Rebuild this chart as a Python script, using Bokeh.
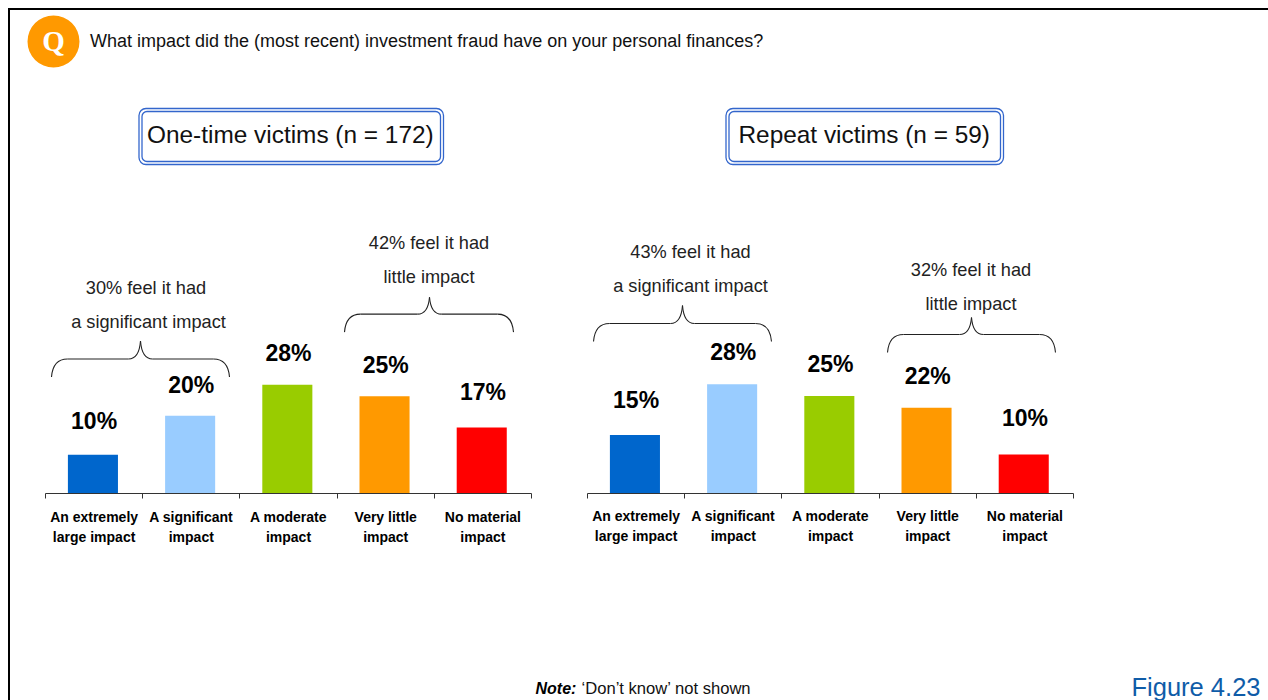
from bokeh.plotting import figure
from bokeh.layouts import column, row
from bokeh.models import Range1d, FixedTicker, BoxAnnotation, Div, ColumnDataSource
from bokeh.core.properties import value
from bokeh.embed import file_html
from bokeh.resources import INLINE

categories = ["An extremely\nlarge impact", "A significant\nimpact", "A moderate\nimpact",
              "Very little\nimpact", "No material\nimpact"]
one_time = [10, 20, 28, 25, 17]
repeat = [15, 28, 25, 22, 10]
colors = ["#0066cc", "#99ccff", "#99cc00", "#ff9900", "#ff0000"]
question = "What impact did the (most recent) investment fraud have on your personal finances?"
title_one = "One-time victims (n = 172)"
title_repeat = "Repeat victims (n = 59)"
note_head = "Note:"
note_body = "\u2018Don\u2019t know\u2019 not shown"
fig_label = "Figure 4.23"

FONT = value("Liberation Sans")
PX_PER_PCT = 3.9
positions = [i + 0.5 for i in range(len(categories))]
edges = [float(i) for i in range(len(categories) + 1)]


def brace(p, x0, x1, xm, yend, ymid, ytip):
    segs = [
        (x0, yend, x0 + 1, ymid + 6, x0 + 7, ymid, x0 + 16, ymid),
        (x0 + 16, ymid, x0 + 30, ymid, xm - 26, ymid, xm - 12, ymid),
        (xm - 12, ymid, xm - 5, ymid, xm - 1, ymid - 5, xm, ytip),
        (xm, ytip, xm + 1, ymid - 5, xm + 5, ymid, xm + 12, ymid),
        (xm + 12, ymid, xm + 26, ymid, x1 - 30, ymid, x1 - 16, ymid),
        (x1 - 16, ymid, x1 - 7, ymid, x1 - 1, ymid + 6, x1, yend),
    ]
    data = {n: [s[i] for s in segs] for i, n in enumerate(["x0", "y0", "cx0", "cy0", "cx1", "cy1", "x1", "y1"])}
    p.bezier(x0="x0", y0="y0", x1="x1", y1="y1", cx0="cx0", cy0="cy0", cx1="cx1", cy1="cy1",
             source=ColumnDataSource(data), line_color="#222222", line_width=1.1,
             x_range_name="px", y_range_name="py")


def chart(values, width, left, right, page_left, axis_y, standoff, label_offsets, annots, braces):
    h = axis_y - 225
    p = figure(width=width, height=327, output_backend="svg", toolbar_location=None,
               x_range=Range1d(0, 5), y_range=Range1d(0, h / PX_PER_PCT),
               y_axis_location=None, min_border_left=left, min_border_right=right,
               min_border_top=0, min_border_bottom=552 - axis_y)
    p.extra_x_ranges["px"] = Range1d(page_left, page_left + 486)
    p.extra_y_ranges["py"] = Range1d(axis_y, 225)
    p.grid.visible = False
    p.outline_line_color = None
    ax = p.xaxis[0]
    ax.ticker = FixedTicker(ticks=positions, minor_ticks=edges)
    ax.major_label_overrides = {pos: c for pos, c in zip(positions, categories)}
    ax.major_tick_in = 0
    ax.major_tick_out = 0
    ax.minor_tick_in = 0
    ax.minor_tick_out = 5
    ax.minor_tick_line_color = "#333333"
    ax.axis_line_color = "#333333"
    ax.major_label_standoff = standoff
    ax.major_label_text_font = "Liberation Sans"
    ax.major_label_text_font_style = "bold"
    ax.major_label_text_font_size = "14px"
    ax.major_label_text_color = "#000000"
    ax.major_label_text_line_height = 1.28

    src = ColumnDataSource(dict(x=positions, bx=[v - 0.012 for v in positions], top=values, color=colors,
                                label=[f"{v}%" for v in values],
                                off=label_offsets))
    p.vbar(x="bx", top="top", bottom=0, width=0.515, fill_color="color", line_color=None, source=src)
    p.text(x="x", y="top", text="label", source=src, y_offset="off", text_align="center",
           text_baseline="middle", text_font=FONT, text_font_style="bold",
           text_font_size="23px", text_color="#000000")
    for x, y, s in annots:
        p.text(x=[x], y=[y], text=[s], text_font=FONT, text_font_size="18.2px", text_align="center",
               text_baseline="middle", text_color="#222222", x_range_name="px", y_range_name="py")
    for b in braces:
        brace(p, *b)
    return p


def titlebox(p, l, r, t, b):
    p.add_layout(BoxAnnotation(left=l, right=r, top=t, bottom=b, fill_alpha=0, line_color="#3366cc",
                               line_alpha=1, line_width=1.3, border_radius=7))
    p.add_layout(BoxAnnotation(left=l + 3, right=r - 3, top=t + 3, bottom=b - 3, fill_alpha=0,
                               line_color="#3366cc", line_alpha=1, line_width=1.3, border_radius=5))


# header
head = figure(width=1258, height=215, output_backend="svg", toolbar_location=None,
              x_range=Range1d(10, 1268), y_range=Range1d(225, 10),
              x_axis_location=None, y_axis_location=None, min_border=0)
head.grid.visible = False
head.outline_line_color = None
head.circle(x=[53], y=[41], radius=26, radius_units="screen", fill_color="#ff9900", line_color=None)
head.text(x=[53], y=[40], text=["Q"], text_font=value("Liberation Serif"), text_font_style="bold",
          text_font_size="29px", text_color="#ffffff", text_align="center", text_baseline="middle")
head.text(x=[89.5], y=[40], text=[question], text_font=FONT, text_font_size="18px",
          text_baseline="middle", text_color="#111111")
titlebox(head, 138.5, 443, 108, 164)
titlebox(head, 725.5, 1003, 108, 164)
head.text(x=[146.5], y=[134], text=[title_one], text_font=FONT, text_font_size="24.4px",
          text_baseline="middle", text_color="#111111")
head.text(x=[738], y=[134], text=[title_repeat], text_font=FONT, text_font_size="24.4px",
          text_baseline="middle", text_color="#111111")

# charts
left_chart = chart(one_time, 549, 35, 28, 45, 494, 10, [-34, -31, -32, -31, -35],
                   [(145.5, 288, "30% feel it had"), (148, 322, "a significant impact"),
                    (428.5, 243, "42% feel it had"), (428.5, 277, "little impact")],
                   [(51, 229, 140, 377, 359, 341), (344, 513, 429, 332, 314, 297)])
right_chart = chart(repeat, 709, 28, 195, 587, 493, 9, [-35, -32, -32, -32, -37],
                    [(690, 251, "43% feel it had"), (690, 285, "a significant impact"),
                     (970.5, 269, "32% feel it had"), (970.5, 303, "little impact")],
                    [(593, 771, 682, 341, 323, 305), (887, 1055, 971, 352, 334, 317)])

# footer
foot = figure(width=1258, height=148, output_backend="svg", toolbar_location=None,
              x_range=Range1d(10, 1268), y_range=Range1d(700, 552),
              x_axis_location=None, y_axis_location=None, min_border=0)
foot.grid.visible = False
foot.outline_line_color = None
foot.text(x=[535], y=[688], text=[note_head], text_font=FONT, text_font_style="bold italic",
          text_font_size="16px", text_baseline="middle", text_color="#000000")
foot.text(x=[581], y=[688], text=[note_body], text_font=FONT, text_font_size="16.6px",
          text_baseline="middle", text_color="#111111")
foot.text(x=[1131], y=[686.5], text=[fig_label], text_font=FONT, text_font_size="25.5px",
          text_baseline="middle", text_color="#0f5ca8")

top_rule = Div(text="", width=1260, height=2, margin=(8, 0, 0, 8), styles={"background": "#000000"})
left_rule = Div(text="", width=2, height=690, margin=(0, 0, 0, 8), styles={"background": "#000000"})
page = column(top_rule,
              row(left_rule, column(head, row(left_chart, right_chart), foot)))
open("out.html", "w").write(file_html(page, INLINE))
